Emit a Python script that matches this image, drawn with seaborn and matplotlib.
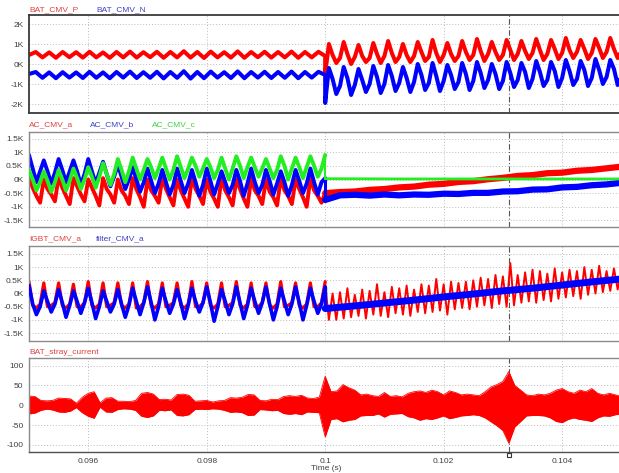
import numpy as np
import pandas as pd
import matplotlib
matplotlib.use("Agg")
import matplotlib.pyplot as plt
import seaborn as sns

# ------------------------------------------------------------------ data
# time axis (s)
t_begin, t_switch, t_stop = 0.095, 0.1, 0.105
x_ticks = [0.096, 0.098, 0.1, 0.102, 0.104]
x_tick_labels = ["0.096", "0.098", "0.1", "0.102", "0.104"]
cursor_time = 0.1031

# Panel 1 (kV): BAT_CMV_P / BAT_CMV_N
bat_cmv_p_pre = [0.45, 0.60, 0.33, 0.58, 0.31, 0.60, 0.34, 0.59, 0.32, 0.61, 0.33, 0.58, 0.31,
                 0.60, 0.33, 0.62, 0.32, 0.59, 0.34, 0.61, 0.31, 0.60, 0.33, 0.64, 0.32, 0.60,
                 0.30, 0.62, 0.33, 0.59, 0.32, 0.63, 0.31, 0.60, 0.34, 0.61, 0.32, 0.60, 0.33,
                 0.62, 0.31, 0.60, 0.33, 0.61, 0.40]
bat_cmv_n_pre = [-0.50, -0.40, -0.69, -0.42, -0.71, -0.41, -0.68, -0.42, -0.70, -0.39, -0.69,
                 -0.42, -0.71, -0.40, -0.68, -0.38, -0.70, -0.41, -0.69, -0.39, -0.72, -0.40,
                 -0.69, -0.36, -0.73, -0.40, -0.71, -0.38, -0.68, -0.41, -0.70, -0.37, -0.71,
                 -0.40, -0.68, -0.39, -0.70, -0.40, -0.69, -0.38, -0.71, -0.40, -0.68, -0.39, -0.55]
bat_cmv_p_post = [-0.5,
                  1.0, 0.45, 0.05, 0.3, 1.1, 0.5, 0.0, 0.35, 0.95, 0.4, 0.1, 0.3,
                  1.05, 0.5, 0.05, 0.4, 1.15, 0.55, 0.1, 0.35, 1.0, 0.45, 0.1, 0.4,
                  1.1, 0.6, 0.15, 0.35, 1.2, 0.55, 0.1, 0.45, 1.05, 0.5, 0.15, 0.4,
                  1.15, 0.6, 0.2, 0.45, 1.25, 0.65, 0.15, 0.5, 1.1, 0.6, 0.2, 0.45,
                  1.2, 0.7, 0.2, 0.5, 1.15, 0.65, 0.25, 0.55, 1.25, 0.7, 0.2, 0.5,
                  1.2, 0.75, 0.25, 0.55, 1.3, 0.7, 0.3, 0.6, 1.2, 0.75, 0.25, 0.55,
                  1.25, 0.8, 0.3, 0.6, 1.3, 0.75, 0.3, 0.65]
bat_cmv_n_post = [-1.95,
                  -0.2, -0.75, -1.5, -1.1, -0.15, -0.7, -1.55, -1.05, -0.25, -0.8, -1.4, -1.0,
                  -0.1, -0.65, -1.45, -1.0, -0.05, -0.6, -1.35, -0.95, -0.15, -0.7, -1.4, -0.9,
                  0.0, -0.55, -1.3, -0.95, 0.05, -0.6, -1.35, -0.85, -0.05, -0.55, -1.25, -0.9,
                  0.05, -0.5, -1.3, -0.85, 0.1, -0.45, -1.2, -0.8, 0.0, -0.5, -1.25, -0.85,
                  0.1, -0.45, -1.15, -0.8, 0.05, -0.4, -1.2, -0.75, 0.15, -0.4, -1.1, -0.8,
                  0.1, -0.35, -1.15, -0.7, 0.2, -0.35, -1.05, -0.75, 0.15, -0.3, -1.1, -0.7,
                  0.25, -0.3, -1.0, -0.65, 0.2, -0.25, -1.05, -0.6]

# Panel 2 (kV): AC_CMV_a / b / c
ac_cmv_a_pre = [0.05, -0.3, -0.6, -0.85, 0.0, -0.35, -0.55, -0.8, 0.1, -0.3, -0.6, -0.9,
                0.05, -0.25, -0.55, -0.8, 0.0, -0.3, -0.6, -0.95, 0.05, -0.35, -0.55, -0.85,
                0.0, -0.4, -0.6, -0.9, 0.05, -0.35, -0.65, -1.0, 0.0, -0.4, -0.6, -0.85,
                0.05, -0.35, -0.65, -0.95, 0.0, -0.4, -0.7, -1.0, 0.05, -0.35, -0.6, -0.9,
                0.0, -0.45, -0.7, -1.0, 0.05, -0.4, -0.65, -0.95, 0.0, -0.35, -0.7, -1.0,
                0.05, -0.4, -0.6, -0.9, 0.0, -0.45, -0.65, -0.95, 0.05, -0.4, -0.6, -0.9,
                0.0, -0.35, -0.65, -1.0, 0.05, -0.4, -0.6, -0.85, -0.5]
ac_cmv_b_pre = [0.9, 0.4, -0.1, 0.3, 0.7, 0.3, -0.15, 0.25, 0.75, 0.35, -0.1, 0.3,
                0.7, 0.3, -0.2, 0.2, 0.75, 0.3, -0.15, 0.25, 0.65, 0.2, -0.25, 0.1,
                0.55, 0.1, -0.35, 0.0, 0.45, 0.0, -0.45, -0.1, 0.4, -0.05, -0.5, -0.15,
                0.35, -0.1, -0.55, -0.2, 0.4, -0.05, -0.5, -0.15, 0.35, -0.1, -0.6, -0.2,
                0.4, -0.05, -0.55, -0.15, 0.3, -0.1, -0.5, -0.2, 0.35, -0.05, -0.6, -0.15,
                0.4, -0.1, -0.5, -0.2, 0.35, -0.05, -0.55, -0.15, 0.3, -0.1, -0.6, -0.2,
                0.35, -0.05, -0.5, -0.15, 0.4, -0.1, -0.55, -0.1, 0.05]
ac_cmv_c_pre = [0.35, 0.0, -0.4, -0.1, 0.3, -0.05, -0.45, -0.1, 0.35, 0.0, -0.4, -0.05,
                0.4, 0.05, -0.35, 0.0, 0.45, 0.1, -0.3, 0.1, 0.6, 0.2, -0.2, 0.2,
                0.75, 0.35, -0.1, 0.3, 0.8, 0.4, 0.0, 0.35, 0.75, 0.45, 0.05, 0.4,
                0.8, 0.4, 0.0, 0.35, 0.85, 0.45, 0.05, 0.4, 0.8, 0.5, 0.1, 0.4,
                0.75, 0.45, 0.05, 0.35, 0.8, 0.4, 0.0, 0.4, 0.85, 0.5, 0.05, 0.45,
                0.8, 0.45, 0.1, 0.4, 0.75, 0.4, 0.05, 0.35, 0.85, 0.5, 0.0, 0.4,
                0.8, 0.45, 0.05, 0.45, 0.85, 0.5, 0.1, 0.4, 0.9]
ac_cmv_a_post = [-0.5, -0.46, -0.44, -0.38, -0.35, -0.29, -0.26, -0.19, -0.16, -0.09, -0.06,
                 0.01, 0.06, 0.13, 0.16, 0.23, 0.25, 0.32, 0.35, 0.41, 0.47]
ac_cmv_b_post = [-0.75, -0.58, -0.56, -0.59, -0.55, -0.58, -0.55, -0.56, -0.52, -0.53, -0.49,
                 -0.49, -0.44, -0.43, -0.37, -0.36, -0.29, -0.27, -0.21, -0.18, -0.12]
ac_cmv_c_post = [0.03, 0.02, 0.02, 0.02, 0.02]

# Panel 3 (kV): IGBT_CMV_a / filter_CMV_a
igbt_cmv_a_pre = [0.45,
                  -0.45, -0.55, -0.4, 0.4, -0.5, -0.45, -0.35, 0.4, -0.45, -0.55, -0.4, 0.35,
                  -0.5, -0.5, -0.35, 0.45, -0.45, -0.55, -0.4, 0.4, -0.5, -0.45, -0.35, 0.4,
                  -0.45, -0.55, -0.4, 0.4, -0.55, -0.5, -0.35, 0.45, -0.45, -0.55, -0.4, 0.4,
                  -0.5, -0.45, -0.35, 0.4, -0.45, -0.55, -0.4, 0.45, -0.5, -0.5, -0.35, 0.4,
                  -0.45, -0.55, -0.4, 0.4, -0.5, -0.45, -0.35, 0.45, -0.45, -0.55, -0.4, 0.4,
                  -0.5, -0.5, -0.35, 0.4, -0.45, -0.55, -0.4, 0.45, -0.5, -0.45, -0.35, 0.4,
                  -0.45, -0.55, -0.4, 0.4, -0.5, -0.5, -0.35, 0.45]
filter_cmv_a_pre = [0.3,
                    -0.4, -0.8, -0.5, 0.1, -0.3, -0.7, -0.4, 0.15, -0.35, -0.9, -0.45, 0.1,
                    -0.3, -0.75, -0.35, 0.2, -0.35, -0.95, -0.5, 0.1, -0.3, -0.7, -0.4, 0.15,
                    -0.4, -0.9, -0.45, 0.2, -0.3, -0.8, -0.35, 0.25, -0.35, -1.0, -0.5, 0.2,
                    -0.3, -0.75, -0.4, 0.15, -0.35, -0.95, -0.45, 0.2, -0.3, -0.7, -0.35, 0.25,
                    -0.35, -1.05, -0.5, 0.15, -0.3, -0.8, -0.4, 0.25, -0.35, -0.95, -0.45, 0.2,
                    -0.3, -0.75, -0.35, 0.25, -0.4, -1.0, -0.5, 0.2, -0.3, -0.8, -0.4, 0.25,
                    -0.35, -1.0, -0.45, 0.2, -0.3, -0.75, -0.4, 0.25]
igbt_cmv_a_post = [0.35, -1.0, 0.0, -1.0, 0.05, -0.95, 0.2, -0.9, -0.05, -0.85, 0.15, -0.95,
                   0.1, -0.8, 0.35, -0.85, 0.05, -0.9, 0.25, -0.75, 0.2, -0.8, 0.3, -0.85,
                   0.15, -0.7, 0.35, -0.75, 0.3, -0.7, 0.55, -0.65, 0.35, -0.8, 0.45, -0.6,
                   0.4, -0.55, 0.45, -0.6, 0.5, -0.5, 0.6, -0.45, 0.55, -0.55, 0.7, -0.4,
                   0.65, -0.5, 1.15, -0.45, 0.7, -0.35, 0.8, -0.3, 0.9, -0.35, 0.85, -0.25,
                   0.75, -0.3, 0.95, -0.2, 0.8, -0.15, 0.9, -0.1, 0.85, -0.2, 1.0, -0.05,
                   0.9, 0.0, 1.05, 0.05, 0.85, 0.1, 0.95, 0.15, 0.9]
filter_cmv_a_post = [-0.57, -0.47, -0.36, -0.25, -0.13, -0.02, 0.10, 0.20, 0.32, 0.44, 0.55]

# Panel 4 (A): BAT_stray_current envelope
stray_upper = [23, 22, 12, 11, 12, 18, 17, 16, 5, 20, 30, 34, 6, 18, 19, 10, 10, 9, 12, 30,
               32, 28, 14, 15, 13, 27, 28, 25, 10, 11, 12, 8, 11, 12, 19, 18, 20, 27, 26, 12,
               11, 15, 14, 22, 24, 22, 25, 18, 17, 20, 73,
               34, 36, 52, 44, 38, 26, 28, 24, 22, 32, 22, 24, 21, 30, 34, 36, 32, 38, 34, 26,
               36, 32, 26, 28, 26, 24, 34, 46, 52, 60, 85, 50, 38, 26, 24, 28, 26, 30, 38, 42,
               34, 30, 38, 34, 42, 30, 26, 30, 26, 22]
stray_lower = [-22, -20, -13, -10, -12, -17, -18, -15, -6, -19, -28, -33, -5, -17, -18, -11,
               -9, -10, -13, -28, -31, -27, -13, -14, -12, -26, -27, -24, -11, -10, -11, -9,
               -10, -13, -18, -17, -19, -26, -25, -11, -12, -14, -13, -21, -23, -21, -24, -17,
               -18, -19, -80,
               -36, -34, -42, -38, -36, -27, -26, -26, -22, -30, -23, -22, -21, -29, -32, -38,
               -34, -36, -32, -27, -34, -31, -27, -26, -24, -26, -32, -42, -52, -64, -96, -55,
               -41, -27, -26, -26, -27, -32, -41, -44, -36, -32, -36, -38, -41, -32, -27, -28,
               -24, -22]

# ------------------------------------------------------------------ style
RED, BLUE, GREEN = "#FF0000", "#0000FF", "#22EE22"
LBL_RED, LBL_BLUE, LBL_GREEN = "#E04040", "#4040C8", "#40D040"

sns.set_theme(style="white")
plt.rcParams["font.family"] = ["Liberation Sans", "DejaVu Sans"]

W, H = 619, 473
fig = plt.figure(figsize=(W / 100, H / 100), dpi=100)


def px_axes(top, bottom, left=29, right=619):
    return fig.add_axes([left / W, 1 - bottom / H, (right - left) / W, (bottom - top) / H])


def seg(t0, t1, vals):
    return np.linspace(t0, t1, len(vals))


def trace(ax, times, vals, color, lw, z=2):
    df = pd.DataFrame({"t": times, "v": vals})
    sns.lineplot(data=df, x="t", y="v", ax=ax, color=color, linewidth=lw,
                 estimator=None, sort=False, errorbar=None, zorder=z)


def series(pre, post):
    t = np.concatenate([seg(t_begin, t_switch, pre), seg(t_switch, t_stop, post)])
    v = np.concatenate([pre, post])
    return t, v


axes = [px_axes(15, 113), px_axes(132, 227), px_axes(246, 341), px_axes(358, 452)]
ylims = [(-2.45, 2.45), (-1.74, 1.74), (-1.8, 1.8), (-118, 119)]
yticks = [[2, 1, 0, -1, -2],
          [1.5, 1, 0.5, 0, -0.5, -1, -1.5],
          [1.5, 1, 0.5, 0, -0.5, -1, -1.5],
          [100, 50, 0, -50, -100]]
ytick_labels = [["2K", "1K", "0K", "-1K", "-2K"],
                ["1.5K", "1K", "0.5K", "0K", "-0.5K", "-1K", "-1.5K"],
                ["1.5K", "1K", "0.5K", "0K", "-0.5K", "-1K", "-1.5K"],
                ["100", "50", "0", "-50", "-100"]]

# Panel 1
ax = axes[0]
t, v = series(bat_cmv_p_pre, bat_cmv_p_post)
trace(ax, t, v, RED, 2.9)
t, v = series(bat_cmv_n_pre, bat_cmv_n_post)
trace(ax, t, v, BLUE, 2.9)

# Panel 2
ax = axes[1]
trace(ax, seg(t_begin, t_switch, ac_cmv_a_pre), ac_cmv_a_pre, RED, 2.8)
trace(ax, seg(t_switch, t_stop, ac_cmv_a_post), ac_cmv_a_post, RED, 4.5)
trace(ax, seg(t_begin, t_switch, ac_cmv_b_pre), ac_cmv_b_pre, BLUE, 2.8)
trace(ax, [t_switch, t_switch], [ac_cmv_b_pre[-1], ac_cmv_b_post[0]], BLUE, 2.2)
trace(ax, seg(t_switch, t_stop, ac_cmv_b_post), ac_cmv_b_post, BLUE, 4.5)
trace(ax, seg(t_begin, t_switch, ac_cmv_c_pre), ac_cmv_c_pre, GREEN, 2.8, z=3)
trace(ax, [t_switch, t_switch], [ac_cmv_c_pre[-1], ac_cmv_c_post[0]], GREEN, 1.5, z=3)
trace(ax, seg(t_switch, t_stop, ac_cmv_c_post), ac_cmv_c_post, GREEN, 2.0, z=3)

# Panel 3
ax = axes[2]
trace(ax, seg(t_begin, t_switch, igbt_cmv_a_pre), igbt_cmv_a_pre, RED, 2.3)
trace(ax, seg(t_switch, t_stop, igbt_cmv_a_post), igbt_cmv_a_post, RED, 1.4)
trace(ax, seg(t_begin, t_switch, filter_cmv_a_pre), filter_cmv_a_pre, BLUE, 2.6, z=3)
trace(ax, [t_switch, t_switch], [filter_cmv_a_pre[-1], filter_cmv_a_post[0]], BLUE, 2.4, z=3)
trace(ax, seg(t_switch, t_stop, filter_cmv_a_post), filter_cmv_a_post, BLUE, 5.0, z=3)

# Panel 4
ax = axes[3]
ts = seg(t_begin, t_stop, stray_upper)
ax.fill_between(ts, stray_lower, stray_upper, color=RED, linewidth=0, zorder=2)
trace(ax, ts, stray_upper, RED, 0.6)
trace(ax, ts, stray_lower, RED, 0.6)
ax.plot([cursor_time], [-126], marker="s", markersize=3.5, markerfacecolor="white",
        markeredgecolor="#333333", markeredgewidth=0.8, clip_on=False, zorder=5)

for i, ax in enumerate(axes):
    ax.set_xlim(t_begin, 0.10496)
    ax.set_ylim(*ylims[i])
    ax.set_yticks(yticks[i])
    ax.set_yticklabels(ytick_labels[i])
    ax.set_xticks(x_ticks)
    ax.set_xticklabels(x_tick_labels if i == 3 else [])
    ax.tick_params(axis="both", length=0, pad=4, labelsize=6, labelcolor="#404040")
    ax.grid(True, color="#BBBBBB", linestyle=(0, (1, 2)), linewidth=0.7)
    ax.set_axisbelow(True)
    ax.set_xlabel("")
    ax.set_ylabel("")
    for side, sp in ax.spines.items():
        sp.set_visible(side != "right")
        sp.set_color("#3A3A3A" if i == 0 else "#8A8A8A")
        sp.set_linewidth(1.3 if i == 0 else 1.0)
    if i == 3:
        ax.spines["bottom"].set_color("#505050")
    ax.axvline(cursor_time, color="#555555", linewidth=0.8,
               linestyle=(0, (5, 2, 1, 2)), zorder=1.5)


def label(x, y, s, c):
    fig.text(x / W, 1 - y / H, s, color=c, fontsize=6, va="center", ha="left")


label(29, 10, "BAT_CMV_P", LBL_RED)
label(96, 10, "BAT_CMV_N", LBL_BLUE)
label(29, 125, "AC_CMV_a", LBL_RED)
label(90, 125, "AC_CMV_b", LBL_BLUE)
label(152, 125, "AC_CMV_c", LBL_GREEN)
label(29, 239, "IGBT_CMV_a", LBL_RED)
label(96, 239, "filter_CMV_a", LBL_BLUE)
label(29, 352, "BAT_stray_current", LBL_RED)
fig.text(326 / W, 1 - 468 / H, "Time (s)", color="#404040", fontsize=6,
         ha="center", va="center")

fig.savefig("out.png", dpi=100)
